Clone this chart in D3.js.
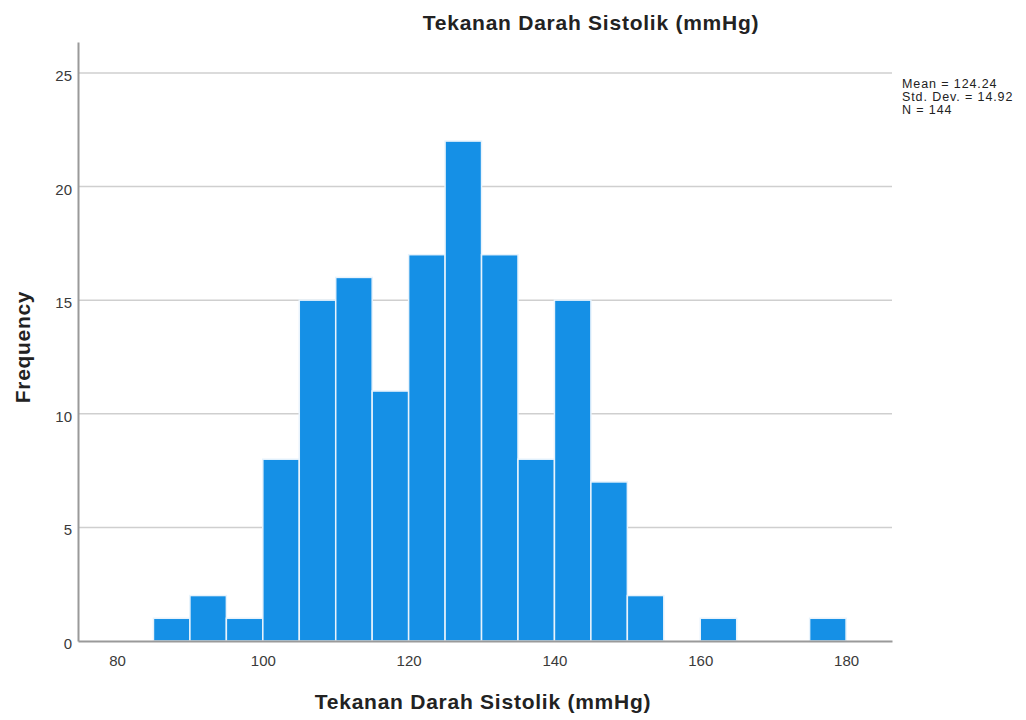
<!DOCTYPE html>
<html>
<head>
<meta charset="utf-8">
<script src="https://cdn.jsdelivr.net/npm/d3@7"></script>
<style>
  body { margin: 0; background: #fff; }
  text { font-family: "Liberation Sans", Arial, sans-serif; }
</style>
</head>
<body>
<div id="chart"></div>
<script>
// Bin edges (width 5) and frequencies
const binStarts = [85, 90, 95, 100, 105, 110, 115, 120, 125, 130, 135, 140, 145, 150, 155, 160, 165, 170, 175];
const counts    = [1, 2, 1, 8, 15, 16, 11, 17, 22, 17, 8, 15, 7, 2, 0, 1, 0, 0, 1];
const binWidth = 5;
const xTicks = [80, 100, 120, 140, 160, 180];
const yTicks = [0, 5, 10, 15, 20, 25];
const stats = ['Mean = 124.24', 'Std. Dev. = 14.92', 'N = 144'];

const W = 1026, H = 720;
const plotLeft = 78, plotRight = 892, plotTop = 42, plotBottom = 641;

const x = d3.scaleLinear().domain([74.65, 186.3]).range([plotLeft, plotRight]);
const y = d3.scaleLinear().domain([0, 26.36]).range([plotBottom, plotTop]);

const svg = d3.select('#chart').append('svg')
    .attr('width', W)
    .attr('height', H);

// Gridlines
svg.append('g')
    .selectAll('line')
    .data(yTicks.filter(d => d > 0))
    .enter().append('line')
    .attr('x1', plotLeft).attr('x2', plotRight)
    .attr('y1', d => y(d)).attr('y2', d => y(d))
    .attr('stroke', '#cfcfcf')
    .attr('stroke-width', 1.5);

// Bars
const bins = binStarts.map((s, i) => ({ x0: s, x1: s + binWidth, n: counts[i] }))
    .filter(d => d.n > 0);

svg.append('g')
    .selectAll('rect')
    .data(bins)
    .enter().append('rect')
    .attr('x', d => x(d.x0))
    .attr('width', d => x(d.x1) - x(d.x0))
    .attr('y', d => y(d.n))
    .attr('height', d => y(0) - y(d.n))
    .attr('fill', '#1590e6')
    .attr('stroke', '#e8f3fc')
    .attr('stroke-width', 1.5);

// Axes
const xAxis = svg.append('g')
    .attr('transform', `translate(0,${plotBottom})`)
    .call(d3.axisBottom(x).tickValues(xTicks).tickSize(0).tickPadding(14));
xAxis.select('.domain').attr('stroke', '#9a9a9a').attr('stroke-width', 2);
xAxis.selectAll('text').attr('font-size', 15).attr('fill', '#3a3a3a');

const yAxis = svg.append('g')
    .attr('transform', `translate(${plotLeft},0)`)
    .call(d3.axisLeft(y).tickValues(yTicks).tickSize(0).tickPadding(6));
yAxis.select('.domain').attr('stroke', '#9a9a9a').attr('stroke-width', 2);
yAxis.selectAll('text').attr('font-size', 15).attr('fill', '#3a3a3a').attr('dy', '0.5em');

// Titles
svg.append('text')
    .attr('x', 591).attr('y', 30)
    .attr('text-anchor', 'middle')
    .attr('font-size', 21)
    .attr('font-weight', 'bold')
    .attr('letter-spacing', 0.75)
    .attr('fill', '#222')
    .text('Tekanan Darah Sistolik (mmHg)');

svg.append('text')
    .attr('x', 483).attr('y', 709)
    .attr('text-anchor', 'middle')
    .attr('font-size', 21)
    .attr('font-weight', 'bold')
    .attr('letter-spacing', 0.75)
    .attr('fill', '#222')
    .text('Tekanan Darah Sistolik (mmHg)');

svg.append('text')
    .attr('transform', 'translate(30,347) rotate(-90)')
    .attr('text-anchor', 'middle')
    .attr('font-size', 21)
    .attr('font-weight', 'bold')
    .attr('letter-spacing', 0.7)
    .attr('fill', '#222')
    .text('Frequency');

// Stats box
svg.append('g')
    .selectAll('text')
    .data(stats)
    .enter().append('text')
    .attr('x', 902)
    .attr('y', (d, i) => 88 + i * 13)
    .attr('font-size', 12.5)
    .attr('letter-spacing', 0.9)
    .attr('fill', '#222')
    .text(d => d);
</script>
</body>
</html>
